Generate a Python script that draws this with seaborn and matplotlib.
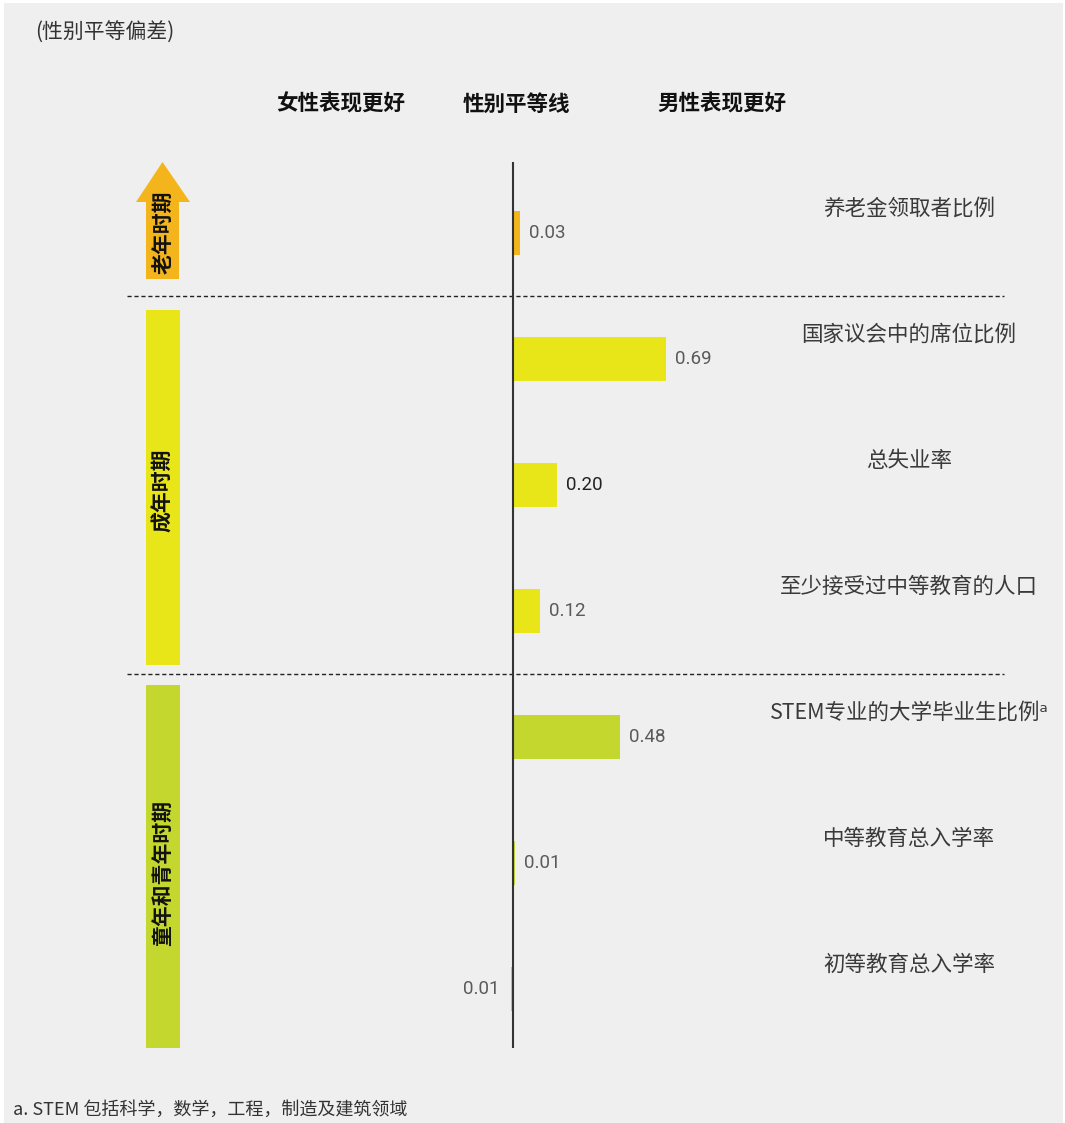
import pandas as pd
import matplotlib.pyplot as plt
import seaborn as sns
from matplotlib.patches import Polygon, Rectangle
from matplotlib.transforms import Affine2D

# data, top to bottom
indicators = ["养老金领取者比例", "国家议会中的席位比例", "总失业率",
              "至少接受过中等教育的人口", "STEM专业的大学毕业生比例ᵃ",
              "中等教育总入学率", "初等教育总入学率"]
values = [0.03, 0.69, 0.20, 0.12, 0.48, 0.01, -0.01]
value_labels = ["0.03", "0.69", "0.20", "0.12", "0.48", "0.01", "0.01"]
stages = ["老年时期", "成年时期", "成年时期", "成年时期",
          "童年和青年时期", "童年和青年时期", "童年和青年时期"]
stage_colors = {"老年时期": "#F4B51C", "成年时期": "#E8E518", "童年和青年时期": "#C4D72F"}
headers = ["女性表现更好", "性别平等线", "男性表现更好"]

df = pd.DataFrame({"indicator": indicators, "value": values, "stage": stages})

W, H = 1065, 1123
BG = "#EEEFEE"
sns.set_style("white")
plt.rcParams["font.family"] = ["Noto Sans CJK SC", "DejaVu Sans"]

fig = plt.figure(figsize=(W / 100, H / 100), dpi=100, facecolor="white")
pix = Affine2D().scale(1 / W, -1 / H).translate(0, 1) + fig.transFigure
fig.patches.append(Rectangle((4, 3), W - 6, H - 3, transform=pix,
                             facecolor=BG, edgecolor="none", zorder=-10))

ax = fig.add_axes([0, 0, 1, 1])
ax.patch.set_alpha(0)
scale = 222.0  # px per unit
sns.barplot(data=df, x="value", y="indicator", hue="indicator", orient="h",
            palette=[stage_colors[s] for s in stages], legend=False,
            width=0.35, dodge=False, saturation=1, linewidth=0, ax=ax, zorder=2)
ax.set_xlim(-513 / scale, (W - 513) / scale)
ax.set_ylim((H - 233) / 126, -233 / 126)
ax.axis("off")

# parity line and separators
ax.vlines(0, (162 - 233) / 126, (1048 - 233) / 126, color="#333333", lw=1.5, zorder=3)
for yy in [0.5, 3.5]:
    ax.plot([(127 - 513) / scale, (1004 - 513) / scale], [yy, yy],
            color="#222222", lw=1, ls=(0, (3, 2)), zorder=1)

# value labels and indicator names
for i, (v, lab) in enumerate(zip(values, value_labels)):
    col = "#222222" if lab == "0.20" else "#5A5A5A"
    if v >= 0:
        ax.text(v + 9 / scale, i, lab, ha="left", va="center", fontsize=13.5,
                family="Roboto", color=col)
    else:
        ax.text(v - 11 / scale, i, lab, ha="right", va="center", fontsize=13.5,
                family="Roboto", color=col)
    ax.text((909 - 513) / scale, i - 24 / 126, indicators[i], ha="center",
            va="center", fontsize=15.5, color="#3A3A3A")

# stage arrow / bands
arrow = [(146, 279), (146, 202), (136, 202), (162.5, 162), (190, 202), (179, 202), (179, 279)]
fig.patches.append(Polygon(arrow, closed=True, transform=pix,
                           facecolor=stage_colors["老年时期"], edgecolor="none"))
fig.patches.append(Rectangle((146, 310), 34, 355, transform=pix,
                             facecolor=stage_colors["成年时期"], edgecolor="none"))
fig.patches.append(Rectangle((146, 685), 34, 363, transform=pix,
                             facecolor=stage_colors["童年和青年时期"], edgecolor="none"))
for name, yc in [("老年时期", 232), ("成年时期", 490), ("童年和青年时期", 873)]:
    fig.text(163, yc, name, transform=pix, rotation=90, ha="center", va="center",
             fontsize=15, fontweight="bold", color="#111111")

# headers and notes
for txt, xc in zip(headers, [341, 516, 722]):
    fig.text(xc, 104, txt, transform=pix, ha="center", va="center",
             fontsize=15.5, fontweight="bold", color="#111111")
fig.text(35, 33, "(性别平等偏差)", transform=pix, ha="left", va="center",
         fontsize=15, color="#333333")
fig.text(13, 1110, "a. STEM 包括科学，数学，工程，制造及建筑领域", transform=pix,
         ha="left", va="center", fontsize=13, color="#333333")

plt.savefig("out.png", dpi=100, facecolor=fig.get_facecolor())
